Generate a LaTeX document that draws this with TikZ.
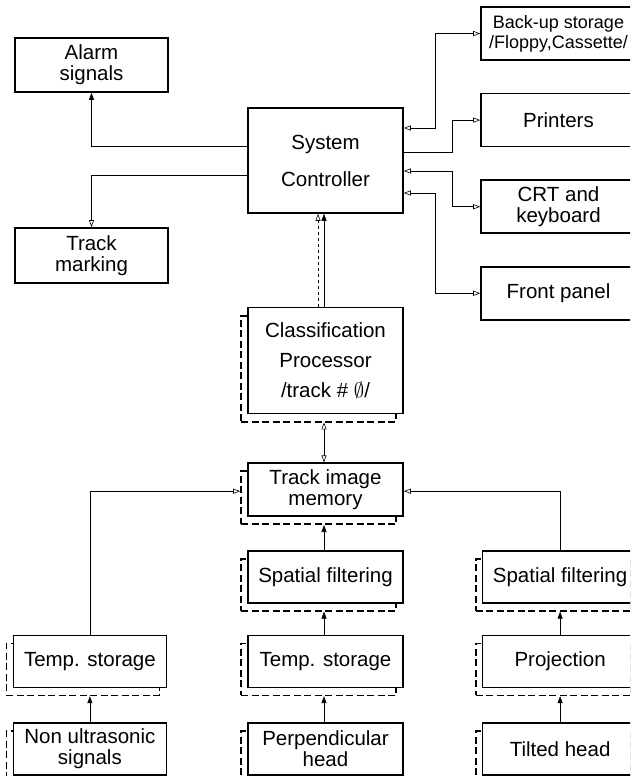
\documentclass[tikz,border=0pt]{standalone}
\usepackage{fontspec}
\setmainfont{Liberation Sans}
\usepackage{tikz}
\usetikzlibrary{arrows.meta, positioning, shadows}

\begin{document}
\begin{tikzpicture}[x=1pt, y=-1pt, node distance=32pt, font=\fontsize{20.5}{21}\selectfont]
    \tikzstyle{box} = [rectangle, draw=black, line width=1.6pt, fill=white, align=center, inner sep=0pt, minimum width=155pt, minimum height=53pt]
    \tikzstyle{sbox} = [box, general shadow={shadow xshift=-7pt, shadow yshift=-8pt, draw=black, line width=1.8pt, dash pattern=on 7pt off 3.5pt}]
    \tikzstyle{link} = [line width=0.6pt]
    \tikzstyle{oarrow} = [link, -{Triangle[open, length=7pt, width=5pt]}]
    \tikzstyle{farrow} = [link, -{Triangle[length=7pt, width=5pt]}]
    \tikzstyle{barrow} = [link, {Triangle[open, length=7pt, width=5pt]}-{Triangle[open, length=7pt, width=5pt]}]

    \useasboundingbox (0,0) rectangle (630,776);
    \clip (0,0) rectangle (630,776);

    \node (ctrl) [box, minimum height=105pt] at (325.5,160.5) {System\\[16pt]Controller};
    \node (cls) [sbox, minimum height=106pt, below=93pt of ctrl] {Classification\\[9pt]Processor\\[9pt]/track \# $\emptyset$/};
    \node (mem) [sbox, below=48pt of cls] {Track image\\memory};
    \node (sfm) [sbox, minimum height=52pt, below=33pt of mem] {Spatial filtering};
    \node (tsm) [sbox, minimum height=52pt, below=31pt of sfm] {Temp. storage};
    \node (perp) [sbox, minimum height=52pt, below=34pt of tsm] {Perpendicular\\head};

    \node (tsl) [sbox, minimum width=153pt, minimum height=52pt, left=80pt of tsm] {Temp. storage};
    \node (nonu) [sbox, minimum width=153pt, minimum height=52pt, left=80pt of perp] {Non ultrasonic\\signals};
    \node (sfr) [sbox, minimum height=52pt, right=78pt of sfm] {Spatial filtering};
    \node (proj) [sbox, minimum height=52pt, right=78pt of tsm] {Projection};
    \node (tilt) [sbox, minimum height=52pt, right=78pt of perp] {Tilted head};

    \node (alarm) [box, minimum width=153pt, minimum height=54pt] at (91.5,65) {Alarm\\signals};
    \node (mark) [box, minimum width=153pt, minimum height=55pt] at (91.5,255.5) {Track\\marking};

    \node (backup) [box, font=\fontsize{18}{20}\selectfont] at (558.5,33.5) {Back-up storage\\/Floppy,Cassette/};
    \node (print) [box, below=of backup] {Printers};
    \node (crt) [box, below=of print] {CRT and\\keyboard};
    \node (front) [box, below=of crt] {Front panel};

    \draw [farrow] ([yshift=14.5pt]ctrl.west) -| (alarm.south);
    \draw [oarrow] ([yshift=-14.5pt]ctrl.west) -| (mark.north);
    \draw [barrow] ([yshift=32.5pt]ctrl.east) -- ++(31,0) |- (backup.west);
    \draw [oarrow] ([yshift=8.5pt]ctrl.east) -- ++(48,0) |- (print.west);
    \draw [barrow] ([yshift=-10.5pt]ctrl.east) -- ++(48,0) |- (crt.west);
    \draw [barrow] ([yshift=-32.5pt]ctrl.east) -- ++(31,0) |- (front.west);

    \draw [oarrow, dashed] ([xshift=-7.5pt]cls.north) -- ([xshift=-7.5pt]ctrl.south);
    \draw [farrow] ([xshift=-1.5pt]cls.north) -- ([xshift=-1.5pt]ctrl.south);
    \draw [barrow] ([xshift=-1.5pt, yshift=-8pt]cls.south) -- ([xshift=-1.5pt]mem.north);

    \draw [farrow] ([xshift=-1.5pt]sfm.north) -- ([xshift=-1.5pt, yshift=-8pt]mem.south);
    \draw [farrow] ([xshift=-1.5pt]tsm.north) -- ([xshift=-1.5pt, yshift=-8pt]sfm.south);
    \draw [farrow] ([xshift=-1.5pt]perp.north) -- ([xshift=-1.5pt, yshift=-8pt]tsm.south);
    \draw [oarrow] (tsl.north) |- ([xshift=-7pt, yshift=-1.5pt]mem.west);
    \draw [oarrow] (sfr.north) |- ([yshift=-1.5pt]mem.east);
    \draw [farrow] (nonu.north) -- ([yshift=-8pt]tsl.south);
    \draw [farrow] (proj.north) -- ([yshift=-8pt]sfr.south);
    \draw [farrow] (tilt.north) -- ([yshift=-8pt]proj.south);
\end{tikzpicture}
\end{document}
